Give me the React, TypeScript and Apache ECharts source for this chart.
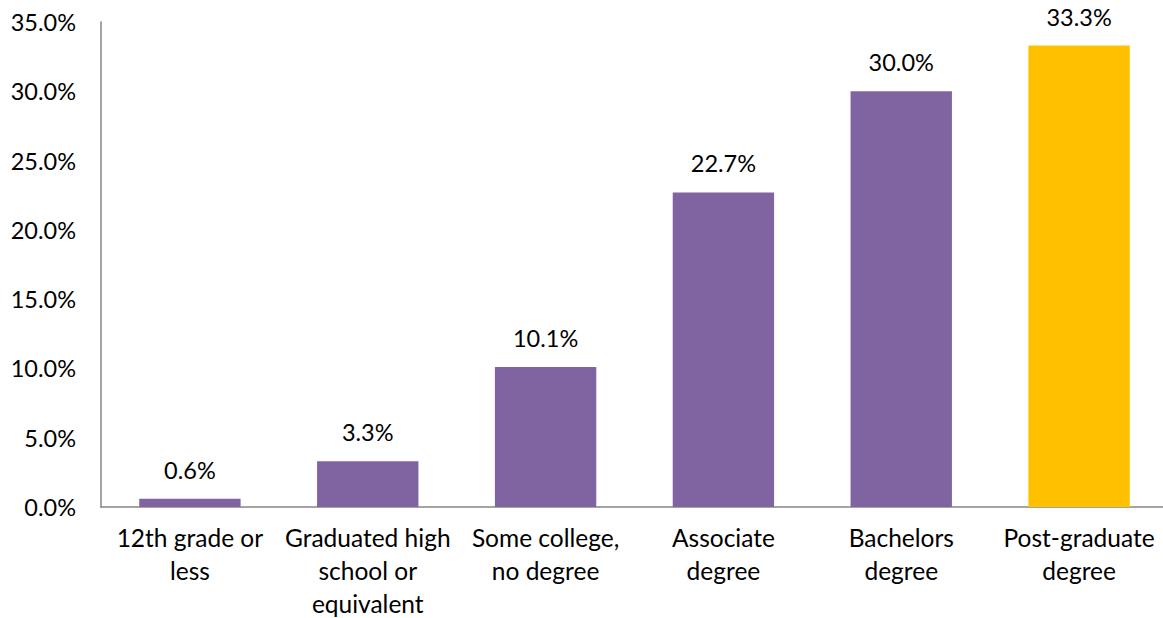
import React, { useEffect, useRef } from "react";
import * as echarts from "echarts";

const categories = [
  "12th grade or\nless",
  "Graduated high\nschool or\nequivalent",
  "Some college,\nno degree",
  "Associate\ndegree",
  "Bachelors\ndegree",
  "Post-graduate\ndegree",
];
const values = [0.6, 3.3, 10.1, 22.7, 30.0, 33.3];
const barColors = ["#8064A2", "#8064A2", "#8064A2", "#8064A2", "#8064A2", "#FFC000"];

const FONT = "Lato, 'Open Sans', sans-serif";
const FS = 23.5;

export default function App() {
  const ref = useRef<HTMLDivElement>(null);
  useEffect(() => {
    if (!ref.current) return;
    const chart = echarts.init(ref.current, null, { renderer: "svg" });
    chart.setOption({
      animation: false,
      grid: { left: 101, right: -5, top: 22, bottom: 111, containLabel: false, outerBoundsMode: "none" },
      xAxis: {
        type: "category",
        data: categories,
        axisLine: { show: true, lineStyle: { color: "#868686", width: 1.5 } },
        axisTick: { show: false },
        axisLabel: {
          color: "#000",
          fontSize: 24.5,
          fontFamily: FONT,
          lineHeight: 33,
          margin: 14,
          interval: 0,
        },
      },
      yAxis: {
        type: "value",
        min: 0,
        max: 35,
        interval: 5,
        axisLine: { show: true, lineStyle: { color: "#868686", width: 1.5 } },
        axisTick: { show: false },
        splitLine: { show: false },
        axisLabel: {
          color: "#000",
          fontSize: FS,
          fontFamily: FONT,
          margin: 25,
          formatter: (v: number) => v.toFixed(1) + "%",
        },
      },
      series: [
        {
          type: "bar",
          barWidth: "57%",
          data: values.map((v, i) => ({ value: v, itemStyle: { color: barColors[i] } })),
          label: {
            show: true,
            position: "top",
            distance: 17,
            color: "#000",
            fontSize: FS,
            fontFamily: FONT,
            formatter: (p: any) => p.value.toFixed(1) + "%",
          },
        },
      ],
    });
    return () => chart.dispose();
  }, []);
  return (
    <div
      ref={ref}
      style={{ position: "absolute", left: 0, top: 0, width: 1163, height: 618, background: "#fff" }}
    />
  );
}
